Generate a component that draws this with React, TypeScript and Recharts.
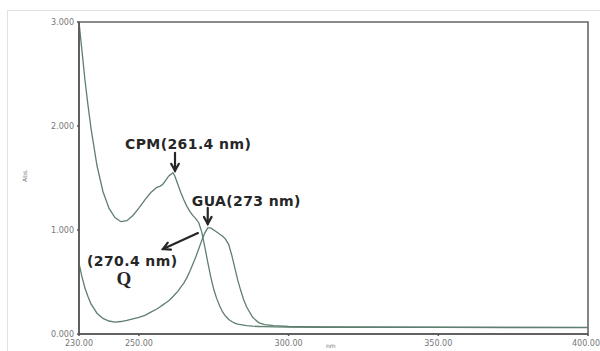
import { LineChart, Line, XAxis, YAxis, ReferenceDot, ReferenceArea } from "recharts";

// wavelength (nm) and absorbance
const wavelengths = [
  230, 231, 232, 233, 234, 236, 238, 240, 242, 244, 246, 248, 250, 252, 254, 256, 257, 258, 259, 260,
  261.4, 262, 263, 264, 265, 266, 267, 268, 269, 270, 271, 272, 273, 274, 275, 276, 277, 278, 279, 280,
  281, 282, 283, 284, 285, 286, 288, 290, 292, 295, 300, 310, 350, 400,
];
const cpmAbs = [
  3.0, 2.72, 2.44, 2.2, 1.98, 1.62, 1.37, 1.21, 1.12, 1.08, 1.09, 1.14, 1.21, 1.29, 1.36, 1.41, 1.42, 1.44, 1.48, 1.52,
  1.55, 1.52, 1.44, 1.36, 1.29, 1.23, 1.18, 1.14, 1.11, 1.07, 0.98, 0.84, 0.69, 0.55, 0.43, 0.34, 0.27, 0.21, 0.17, 0.14,
  0.12, 0.105, 0.095, 0.09, 0.085, 0.08, 0.075, 0.072, 0.07, 0.068, 0.066, 0.065, 0.063, 0.062,
];
const guaAbs = [
  0.68, 0.55, 0.44, 0.36, 0.29, 0.2, 0.15, 0.125, 0.115, 0.12, 0.13, 0.145, 0.16, 0.18, 0.21, 0.24, 0.26, 0.28, 0.3, 0.32,
  0.36, 0.38, 0.41, 0.45, 0.49, 0.54, 0.6, 0.67, 0.74, 0.82, 0.9, 0.97, 1.02, 1.02, 1.0, 0.98, 0.96, 0.94, 0.91, 0.86,
  0.76, 0.64, 0.52, 0.42, 0.33, 0.26, 0.16, 0.11, 0.09, 0.08, 0.072, 0.068, 0.065, 0.064,
];
const xTicks = [230, 250, 300, 350, 400];
const yTicks = [0, 1, 2, 3];

const data = wavelengths.map((w, i) => ({ w, cpm: cpmAbs[i], gua: guaAbs[i] }));

const curve = "#5f7f70";
const ink = "#262626";
const annoFont = {
  fontFamily: "DejaVu Sans, Verdana, sans-serif",
  fontWeight: 700,
  fontSize: 14,
  letterSpacing: 0.4,
};
const tickStyle = { fill: "#777", fontSize: 8, fontFamily: "DejaVu Sans, sans-serif" };

function arrow(x1: number, y1: number, x2: number, y2: number) {
  const a = Math.atan2(y2 - y1, x2 - x1);
  const h = 8;
  const p1 = [x2 - h * Math.cos(a - 0.5), y2 - h * Math.sin(a - 0.5)];
  const p2 = [x2 - h * Math.cos(a + 0.5), y2 - h * Math.sin(a + 0.5)];
  return (
    <g stroke={ink} strokeWidth={2.2} fill="none" strokeLinecap="round">
      <line x1={x1} y1={y1} x2={x2} y2={y2} />
      <polyline points={`${p1[0]},${p1[1]} ${x2},${y2} ${p2[0]},${p2[1]}`} strokeLinejoin="miter" />
    </g>
  );
}

// last label is pulled in so it stays inside the frame
const XTick = (p: any) => {
  const last = p.payload.value === xTicks[xTicks.length - 1];
  return (
    <text x={last ? p.x + 12 : p.x} y={p.y + 8} textAnchor={last ? "end" : "middle"} style={tickStyle} fill="#777">
      {Number(p.payload.value).toFixed(2)}
    </text>
  );
};

const cpmMark = (p: any) => (
  <g>
    {arrow(p.cx + 2, p.cy - 20, p.cx + 2, p.cy - 2)}
    <text x={p.cx - 48} y={p.cy - 24} fill={ink} style={annoFont}>CPM(261.4 nm)</text>
  </g>
);

const guaMark = (p: any) => (
  <g>
    {arrow(p.cx, p.cy - 19, p.cx, p.cy - 3)}
    <text x={p.cx - 16} y={p.cy - 21} fill={ink} style={annoFont}>GUA(273 nm)</text>
  </g>
);

const qMark = (p: any) => (
  <g>
    {arrow(p.cx - 2, p.cy, p.cx - 37, p.cy + 16)}
    <text x={p.cx - 113} y={p.cy + 33} fill={ink} style={annoFont}>(270.4 nm)</text>
    <text x={p.cx - 76} y={p.cy + 52} fill={ink} textAnchor="middle"
      style={{ fontFamily: "Liberation Serif, serif", fontWeight: 700, fontSize: 19 }}>Q</text>
  </g>
);

export default function App() {
  return (
    <div style={{ position: "absolute", left: 0, top: 0, width: 600, height: 351, background: "#fff", overflow: "hidden" }}>
      <div style={{ position: "absolute", left: 7, top: 10, width: 600, height: 360, border: "1px solid #e2e2e2" }} />
      <LineChart width={600} height={351} data={data} margin={{ top: 22, right: 12, bottom: 3, left: 0 }}>
        <XAxis
          dataKey="w"
          type="number"
          domain={[230, 400]}
          ticks={xTicks}
          tick={<XTick />}
          tickSize={2}
          tickMargin={2}
          height={14}
          stroke="#555"
          strokeWidth={1.5}
        />
        <YAxis
          type="number"
          domain={[0, 3]}
          ticks={yTicks}
          tickFormatter={(v: number) => v.toFixed(3)}
          tick={tickStyle}
          tickSize={2}
          tickMargin={3}
          width={79}
          stroke="#555"
          strokeWidth={1.5}
        />
        <ReferenceArea x1={230} x2={400} y1={0} y2={3} fill="none" stroke="#666" strokeWidth={1.6} />
        <Line type="linear" dataKey="gua" stroke={curve} strokeWidth={1.3} dot={false} isAnimationActive={false} />
        <Line type="linear" dataKey="cpm" stroke={curve} strokeWidth={1.3} dot={false} isAnimationActive={false} />
        <ReferenceDot x={261.4} y={1.55} r={0} shape={cpmMark} />
        <ReferenceDot x={273} y={1.03} r={0} shape={guaMark} />
        <ReferenceDot x={270.4} y={0.97} r={0} shape={qMark} />
      </LineChart>
      <div style={{ position: "absolute", left: 18, top: 172, transform: "rotate(-90deg)", fontSize: 6, color: "#777", fontFamily: "DejaVu Sans, sans-serif" }}>Abs.</div>
      <div style={{ position: "absolute", left: 326, top: 342, fontSize: 6, lineHeight: "7px", color: "#777", fontFamily: "DejaVu Sans, sans-serif" }}>nm</div>
    </div>
  );
}
